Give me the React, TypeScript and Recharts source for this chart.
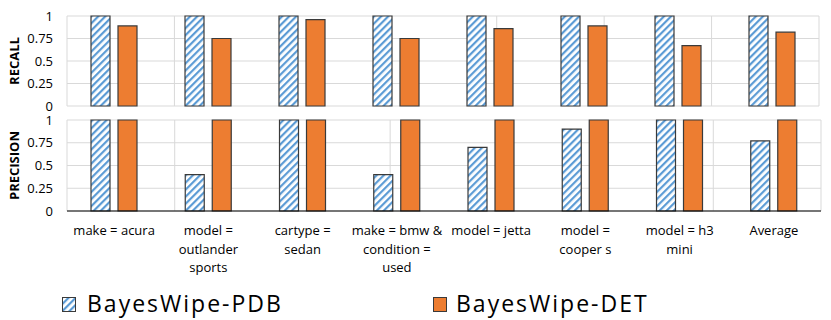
import React from 'react';
import { BarChart, Bar, XAxis, YAxis, CartesianGrid } from 'recharts';

const categories = [
  'make = acura',
  'model =\noutlander\nsports',
  'cartype =\nsedan',
  'make = bmw &\ncondition =\nused',
  'model = jetta',
  'model =\ncooper s',
  'model = h3\nmini',
  'Average',
];
const recallPDB = [1, 1, 1, 1, 1, 1, 1, 1];
const recallDET = [0.89, 0.75, 0.96, 0.75, 0.86, 0.89, 0.67, 0.82];
const precisionPDB = [1, 0.4, 1, 0.4, 0.7, 0.9, 1, 0.77];
const precisionDET = [1, 1, 1, 1, 1, 1, 1, 1];
const seriesNames = ['BayesWipe-PDB', 'BayesWipe-DET'];
const yTicks = [0, 0.25, 0.5, 0.75, 1];
const boundaryTicks = categories.map((_, i) => i).concat([categories.length]);

const recallData = categories.map((cat, i) => ({ cat, pdb: recallPDB[i], det: recallDET[i] }));
const precisionData = categories.map((cat, i) => ({ cat, pdb: precisionPDB[i], det: precisionDET[i] }));

const BLUE = '#5B9BD5';
const ORANGE = '#ED7D31';
const BORDER = '#3a3a3a';
const GRID = '#d9d9d9';

const AxisTitle = (props: any) => {
  const vb = props.viewBox || { x: 0, y: 0, width: 0, height: 0 };
  const cx = vb.x + 14;
  const cy = vb.y + vb.height / 2;
  return (
    <text
      x={cx}
      y={cy}
      transform={`rotate(-90 ${cx} ${cy})`}
      textAnchor="middle"
      dominantBaseline="central"
      fontWeight="bold"
      fontSize={13}
      fill="#000"
    >
      {props.text}
    </text>
  );
};

const CategoryTick = (props: any) => {
  const { x, y, payload } = props;
  const lines = String(payload.value).split('\n');
  return (
    <text x={x} y={y} textAnchor="middle" fontSize={13} fill="#000">
      {lines.map((l, i) => (
        <tspan key={i} x={x} dy={i === 0 ? 16 : 18.5}>
          {l}
        </tspan>
      ))}
    </text>
  );
};

const EmptyTick = () => <g />;

export default function App() {
  return (
    <div
      style={{
        position: 'absolute',
        left: 0,
        top: 0,
        width: 831,
        height: 320,
        background: '#fff',
        fontFamily: '"Open Sans", sans-serif',
      }}
    >
      <svg width={0} height={0} style={{ position: 'absolute' }}>
        <defs>
          <pattern id="hatch" patternUnits="userSpaceOnUse" width={5} height={5} patternTransform="rotate(45)">
            <rect x={0} y={0} width={5} height={5} fill="#fff" />
            <rect x={0} y={0} width={2.2} height={5} fill={BLUE} />
          </pattern>
        </defs>
      </svg>

      <div style={{ position: 'absolute', left: 0, top: 0 }}>
        <BarChart
          width={831}
          height={115}
          data={recallData}
          margin={{ top: 16, right: 12, bottom: 0, left: 0 }}
          barGap={8}
          barSize={19}
        >
          <CartesianGrid xAxisId="num" stroke={GRID} />
          <XAxis xAxisId="cat" dataKey="cat" hide />
          <XAxis
            xAxisId="num"
            type="number"
            domain={[0, categories.length]}
            ticks={boundaryTicks}
            allowDataOverflow
            axisLine={{ stroke: '#000' }}
            tickLine={{ stroke: '#000' }}
            tickSize={5}
            tick={EmptyTick}
            height={9}
          />
          <YAxis
            domain={[0, 1]}
            ticks={yTicks}
            interval={0}
            width={67}
            axisLine={false}
            tickLine={false}
            tickMargin={8}
            tick={{ fontSize: 13, fill: '#000' }}
            label={<AxisTitle text="RECALL" />}
          />
          <Bar xAxisId="cat" dataKey="pdb" name={seriesNames[0]} fill="url(#hatch)" stroke={BORDER} strokeWidth={1.2} isAnimationActive={false} />
          <Bar xAxisId="cat" dataKey="det" name={seriesNames[1]} fill={ORANGE} stroke={BORDER} strokeWidth={1.2} isAnimationActive={false} />
        </BarChart>
      </div>

      <div style={{ position: 'absolute', left: 0, top: 105 }}>
        <BarChart
          width={831}
          height={170}
          data={precisionData}
          margin={{ top: 15, right: 10, bottom: 0, left: 0 }}
          barGap={8}
          barSize={19}
        >
          <CartesianGrid xAxisId="num" stroke={GRID} />
          <XAxis
            xAxisId="cat"
            dataKey="cat"
            interval={0}
            height={64}
            axisLine={{ stroke: '#000' }}
            tickLine={false}
            tick={<CategoryTick />}
          />
          <XAxis
            xAxisId="num"
            type="number"
            domain={[0, categories.length]}
            ticks={boundaryTicks}
            allowDataOverflow
            hide
          />
          <YAxis
            domain={[0, 1]}
            ticks={yTicks}
            interval={0}
            width={67}
            axisLine={false}
            tickLine={false}
            tickMargin={8}
            tick={{ fontSize: 13, fill: '#000' }}
            label={<AxisTitle text="PRECISION" />}
          />
          <Bar xAxisId="cat" dataKey="pdb" name={seriesNames[0]} fill="url(#hatch)" stroke={BORDER} strokeWidth={1.2} isAnimationActive={false} />
          <Bar xAxisId="cat" dataKey="det" name={seriesNames[1]} fill={ORANGE} stroke={BORDER} strokeWidth={1.2} isAnimationActive={false} />
        </BarChart>
      </div>

      <svg width={831} height={40} style={{ position: 'absolute', left: 0, top: 280 }}>
        <rect x={62.5} y={17.5} width={13} height={14} fill="url(#hatch)" stroke={BORDER} strokeWidth={1} />
        <text x={87} y={32} fontSize={23} letterSpacing={2} fill="#000">
          {seriesNames[0]}
        </text>
        <rect x={433.5} y={17.5} width={13} height={14} fill={ORANGE} stroke={BORDER} strokeWidth={1} />
        <text x={456} y={32} fontSize={23} letterSpacing={2} fill="#000">
          {seriesNames[1]}
        </text>
      </svg>
    </div>
  );
}
